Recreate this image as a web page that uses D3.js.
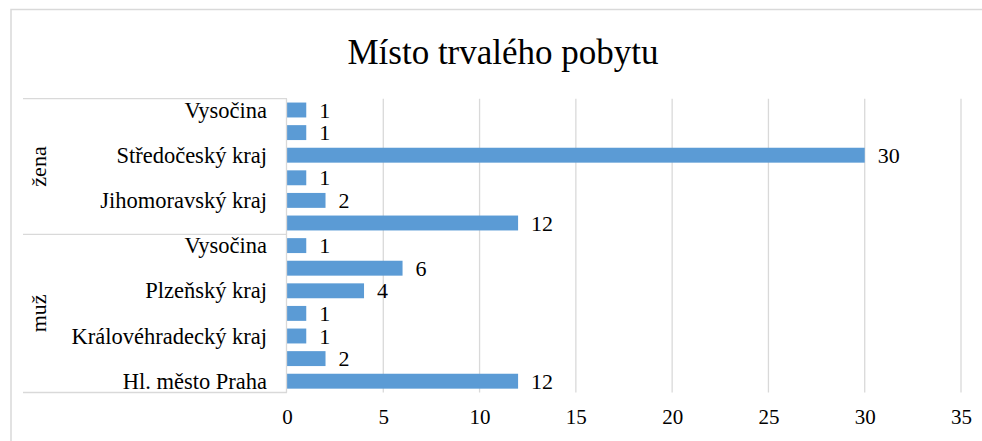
<!DOCTYPE html>
<html>
<head>
<meta charset="utf-8">
<script src="https://cdn.jsdelivr.net/npm/d3@7"></script>
<style>
  html, body { margin: 0; padding: 0; background: #fff; }
  svg { display: block; }
</style>
</head>
<body>
<svg id="chart" width="982" height="441"></svg>
<script>
// Data (top to bottom as displayed)
const title = "Místo trvalého pobytu";
const groups = ["žena", "muž"];
const groupOf = ["žena","žena","žena","žena","žena","žena","muž","muž","muž","muž","muž","muž","muž"];
const regions = ["Vysočina","Ústecký kraj","Středočeský kraj","Královéhradecký kraj","Jihomoravský kraj","Hl. město Praha",
                 "Vysočina","Středočeský kraj","Plzeňský kraj","Liberecký kraj","Královéhradecký kraj","Jihomoravský kraj","Hl. město Praha"];
const values = [1, 1, 30, 1, 2, 12, 1, 6, 4, 1, 1, 2, 12];
const xTicks = [0, 5, 10, 15, 20, 25, 30, 35];

const FONT = '"Liberation Serif", "Times New Roman", serif';
const svg = d3.select("#chart");
const W = 982, H = 441;

const plot = { left: 287, right: 961, top: 98.7, bottom: 392.5 };
const catLeft = 23;

// frame
svg.append("path")
  .attr("d", `M11,${H + 2} L11,9.5 L${W + 2},9.5`)
  .attr("fill", "none").attr("stroke", "#d9d9d9").attr("stroke-width", 1.5);

// title
svg.append("text")
  .attr("x", 503).attr("y", 64)
  .attr("text-anchor", "middle")
  .style("font-family", FONT)
  .style("font-size", "35px")
  .attr("fill", "#000")
  .text(title);

const x = d3.scaleLinear().domain([0, 35]).range([plot.left, plot.right]);
const idx = d3.range(values.length);
const y = d3.scaleBand().domain(idx).range([plot.top, plot.bottom]).paddingInner(0.34).paddingOuter(0.17);

// gridlines
svg.append("g").selectAll("line").data(xTicks.filter(t => t > 0)).join("line")
  .attr("x1", d => x(d)).attr("x2", d => x(d))
  .attr("y1", plot.top).attr("y2", plot.bottom)
  .attr("stroke", "#d9d9d9").attr("stroke-width", 1.3);

// x axis tick labels
const xAxis = d3.axisBottom(x).tickValues(xTicks).tickSize(0).tickPadding(0);
const gx = svg.append("g").attr("transform", `translate(0,${plot.bottom})`).call(xAxis);
gx.select(".domain").remove();
gx.selectAll("text")
  .attr("y", 31).attr("dy", 0)
  .style("font-size", "21px")
  .style("font-family", FONT)
  .attr("fill", "#000");

// bars
svg.append("g").selectAll("rect").data(idx).join("rect")
  .attr("x", x(0)).attr("y", i => y(i))
  .attr("width", i => x(values[i]) - x(0))
  .attr("height", y.bandwidth())
  .attr("fill", "#5b9bd5");

// data labels
svg.append("g").selectAll("text").data(idx).join("text")
  .attr("x", i => x(values[i]) + 13)
  .attr("y", i => y(i) + y.bandwidth() / 2 + 7.5)
  .style("font-family", FONT)
  .style("font-size", "22px")
  .attr("fill", "#000")
  .text(i => values[i]);

// category axis structure
const step = y.step();
const groupBounds = groups.map(g => {
  const ids = idx.filter(i => groupOf[i] === g);
  const top = plot.top + d3.min(ids) * step;
  const bottom = plot.top + (d3.max(ids) + 1) * step;
  return { g, top, bottom };
});
const axisG = svg.append("g");
const hLines = [plot.top, ...groupBounds.map(b => b.bottom)];
axisG.selectAll("line.h").data(hLines).join("line")
  .attr("class", "h")
  .attr("x1", catLeft).attr("x2", plot.left)
  .attr("y1", d => d).attr("y2", d => d)
  .attr("stroke", "#d9d9d9").attr("stroke-width", 1.3);
axisG.append("line")
  .attr("x1", plot.left - 0.5).attr("x2", plot.left - 0.5)
  .attr("y1", plot.top).attr("y2", plot.bottom)
  .attr("stroke", "#d9d9d9").attr("stroke-width", 1.3);

// category labels (every other, as in the source)
axisG.selectAll("text.cat").data(idx.filter(i => (values.length - 1 - i) % 2 === 0)).join("text")
  .attr("class", "cat")
  .attr("x", 267)
  .attr("y", i => y(i) + y.bandwidth() / 2 + 7.5)
  .attr("text-anchor", "end")
  .style("font-family", FONT)
  .style("font-size", "22.5px")
  .attr("fill", "#000")
  .text(i => regions[i]);

// group labels
axisG.selectAll("text.grp").data(groupBounds).join("text")
  .attr("class", "grp")
  .attr("transform", d => `translate(46,${(d.top + d.bottom) / 2}) rotate(-90)`)
  .attr("text-anchor", "middle")
  .style("font-family", FONT)
  .style("font-size", "22px")
  .attr("fill", "#000")
  .text(d => d.g);
</script>
</body>
</html>
